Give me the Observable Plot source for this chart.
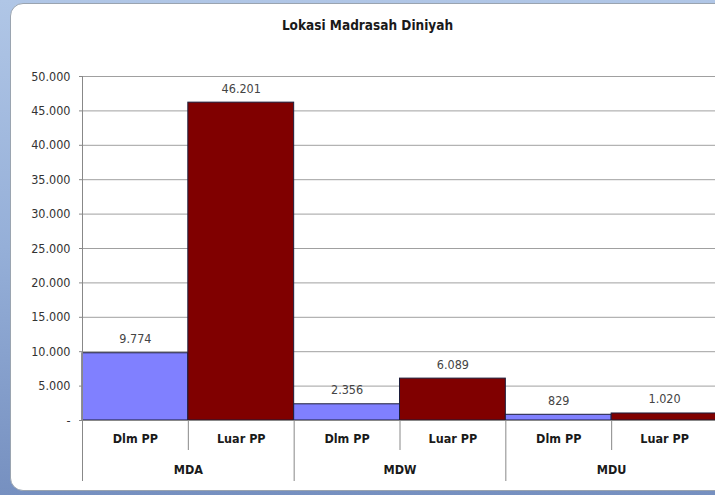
<!DOCTYPE html>
<html>
<head>
<meta charset="utf-8">
<script src="https://cdn.jsdelivr.net/npm/d3@7"></script>
<script src="https://cdn.jsdelivr.net/npm/@observablehq/plot@0.6"></script>
<style>
  html, body { margin: 0; padding: 0; width: 715px; height: 495px; overflow: hidden; }
  #page {
    position: relative; width: 715px; height: 495px; overflow: hidden;
    background: linear-gradient(180deg, #b0c6e6 0%, #95afd8 50%, #7690c0 100%);
  }
  #panel {
    position: absolute; left: 10px; top: 3px; width: 740px; height: 486px;
    background: #ffffff; border: 1px solid #9aa4b0; border-radius: 13px;
  }
  #title {
    position: absolute; left: 0; top: 17px; width: 735px; text-align: center;
    font-family: "DejaVu Sans Condensed", "DejaVu Sans", sans-serif;
    font-weight: bold; font-size: 13.5px; color: #1a1a1a;
  }
  #chart { position: absolute; left: 0; top: 0; }
  #chart svg { max-width: none !important; }
</style>
</head>
<body>
<div id="page">
  <div id="panel"></div>
  <div id="title">Lokasi Madrasah Diniyah</div>
  <div id="chart"></div>
</div>
<script>
const groups = ["MDA", "MDW", "MDU"];
const series = ["Dlm PP", "Luar PP"];
const dlmPP = [9774, 2356, 829];
const luarPP = [46201, 6089, 1020];
const yTicks = [0, 5000, 10000, 15000, 20000, 25000, 30000, 35000, 40000, 45000, 50000];
const colors = ["#8080ff", "#800000"];

const fmt = d3.formatLocale({decimal: ",", thousands: ".", grouping: [3], currency: ["", ""]}).format(",");

const values = [dlmPP, luarPP];
const rows = [];
groups.forEach((g, gi) => {
  series.forEach((s, si) => {
    rows.push({group: g, series: s, value: values[si][gi], pos: gi * series.length + si});
  });
});

const n = rows.length;
const edges = d3.range(n + 1);
const groupEdges = d3.range(0, n + 1, series.length);
const innerEdges = edges.filter(e => !groupEdges.includes(e));
const centers = rows.map(r => r.pos + 0.5);
const groupCenters = groups.map((g, gi) => gi * series.length + series.length / 2);

const font = "DejaVu Sans Condensed, DejaVu Sans, sans-serif";

const chart = Plot.plot({
  width: 720,
  height: 495,
  marginLeft: 82,
  marginRight: 3,
  marginTop: 76,
  marginBottom: 75,
  style: {fontFamily: font, fontSize: "12.5px", color: "#333", background: "transparent", overflow: "visible", maxWidth: "none"},
  x: {type: "linear", domain: [0, n], axis: null},
  y: {domain: [0, 50000], axis: null},
  marks: [
    Plot.gridY(yTicks, {stroke: "#a0a0a0", strokeOpacity: 1, strokeWidth: 1}),
    Plot.rectY(rows, {
      x1: "pos",
      x2: d => d.pos + 1,
      y: "value",
      fill: d => colors[series.indexOf(d.series)],
      stroke: "#1c1c3a",
      strokeWidth: 1
    }),
    Plot.text(rows, {
      x: d => d.pos + 0.5,
      y: "value",
      text: d => fmt(d.value),
      dy: -14,
      fill: "#444",
      fontSize: 12.5
    }),
    Plot.ruleY([0], {stroke: "#888"}),
    Plot.ruleX([0], {stroke: "#888"}),
    Plot.axisY({
      ticks: yTicks,
      tickFormat: d => d === 0 ? "-" : fmt(d),
      tickSize: 3,
      tickPadding: 9,
      stroke: "#888",
      fill: "#333",
      fontSize: 12.5,
      label: null
    }),
    Plot.axisX({
      ticks: innerEdges,
      tickSize: 30,
      tickFormat: () => "",
      stroke: "#888",
      label: null
    }),
    Plot.axisX({
      ticks: groupEdges,
      tickSize: 61,
      tickFormat: () => "",
      stroke: "#888",
      label: null
    }),
    Plot.axisX({
      ticks: centers,
      tickSize: 0,
      tickPadding: 14,
      tickFormat: (d, i) => rows[i].series,
      fontWeight: "bold",
      fill: "#1a1a1a",
      fontSize: 12.5,
      label: null
    }),
    Plot.axisX({
      ticks: groupCenters,
      tickSize: 0,
      tickPadding: 45,
      tickFormat: (d, i) => groups[i],
      fontWeight: "bold",
      fill: "#1a1a1a",
      fontSize: 12.5,
      label: null
    })
  ]
});
document.getElementById("chart").appendChild(chart);
</script>
</body>
</html>
